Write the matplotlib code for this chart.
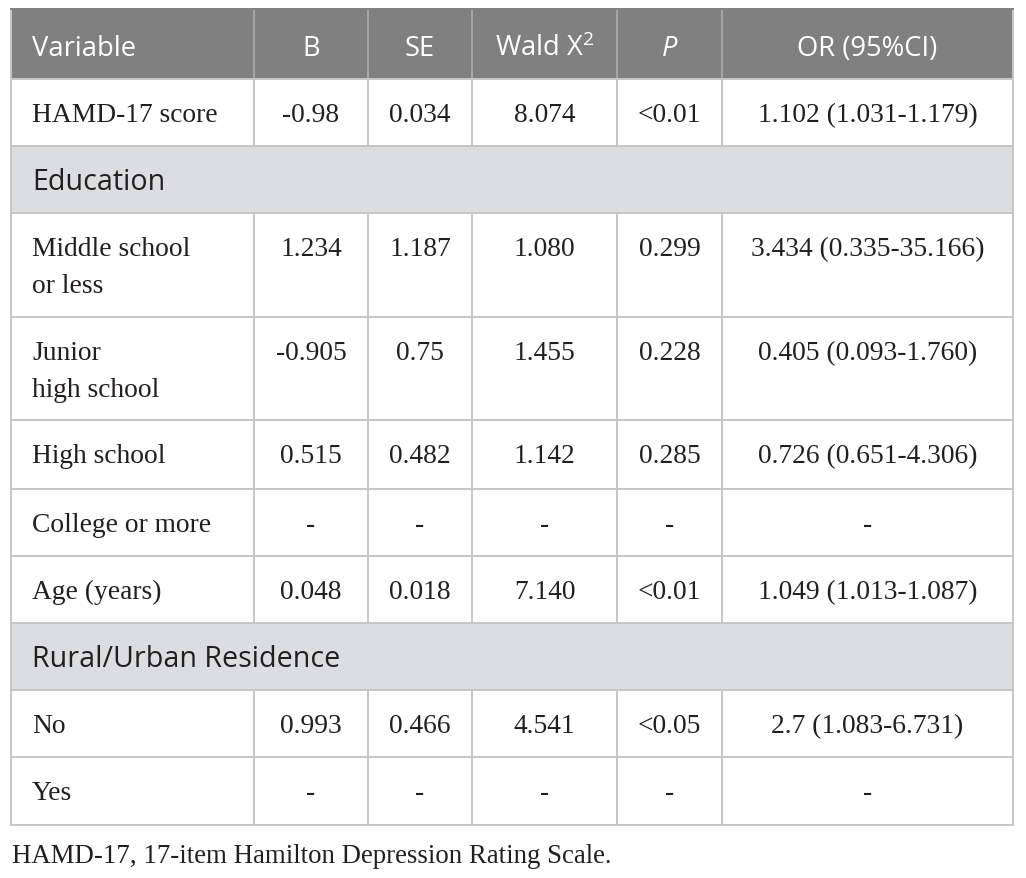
import matplotlib
matplotlib.use("Agg")
import matplotlib.pyplot as plt
from matplotlib.patches import Rectangle

# ---- data ----
headers = ["Variable", "B", "SE", r"Wald X$^{\mathregular{2}}$", "P", "OR (95%CI)"]
variables = ["HAMD-17 score", "Education", "Middle school\nor less", "Junior\nhigh school",
             "High school", "College or more", "Age (years)", "Rural/Urban Residence", "No", "Yes"]
is_section = [False, True, False, False, False, False, False, True, False, False]
B_vals = ["-0.98", "", "1.234", "-0.905", "0.515", "-", "0.048", "", "0.993", "-"]
SE_vals = ["0.034", "", "1.187", "0.75", "0.482", "-", "0.018", "", "0.466", "-"]
wald_vals = ["8.074", "", "1.080", "1.455", "1.142", "-", "7.140", "", "4.541", "-"]
p_vals = ["<0.01", "", "0.299", "0.228", "0.285", "-", "<0.01", "", "<0.05", "-"]
or_vals = ["1.102 (1.031-1.179)", "", "3.434 (0.335-35.166)", "0.405 (0.093-1.760)",
           "0.726 (0.651-4.306)", "-", "1.049 (1.013-1.087)", "", "2.7 (1.083-6.731)", "-"]
footnote = "HAMD-17, 17-item Hamilton Depression Rating Scale."

# ---- layout (pixels) ----
W, H = 1026, 879
col_edges = [11, 254, 368, 472, 617, 722, 1013]
row_edges = [10, 80, 147, 214, 318, 421, 490, 557, 624, 691, 758, 826]

HEADER_BG = "#808080"
SECTION_BG = "#dcdddf"
GRID = "#c6c6c6"
TEXT = "#231f20"
SANS = "Open Sans"
SERIF = "Liberation Serif"
SANS_SIZE_HEAD = 19.7
SANS_SIZE_SEC = 20.6
SERIF_SIZE = 19.8
FOOT_SIZE = 19.4

fig = plt.figure(figsize=(W / 100, H / 100), dpi=100)
ax = fig.add_axes([0, 0, 1, 1])
ax.set_xlim(0, W)
ax.set_ylim(H, 0)
ax.axis("off")

# header background
ax.add_patch(Rectangle((col_edges[0], row_edges[0]), col_edges[-1] - col_edges[0],
                       row_edges[1] - row_edges[0], facecolor=HEADER_BG, edgecolor="none"))
hy = row_edges[0] + 46
for i, h in enumerate(headers):
    if i == 0:
        ax.text(col_edges[0] + 21, hy, h, ha="left", va="baseline", color="white",
                fontsize=SANS_SIZE_HEAD, family=SANS)
    else:
        cx = (col_edges[i] + col_edges[i + 1]) / 2
        ax.text(cx, hy, h, ha="center", va="baseline", color="white", fontsize=SANS_SIZE_HEAD,
                family=SANS, style="italic" if h == "P" else "normal")

# header vertical separators
for x in col_edges[1:-1]:
    ax.plot([x, x], [row_edges[0], row_edges[1]], color="#a8a8a8", lw=1.3)

cols = [B_vals, SE_vals, wald_vals, p_vals, or_vals]
for r, name in enumerate(variables):
    top, bot = row_edges[r + 1], row_edges[r + 2]
    if is_section[r]:
        ax.add_patch(Rectangle((col_edges[0], top), col_edges[-1] - col_edges[0], bot - top,
                               facecolor=SECTION_BG, edgecolor="none"))
        ax.text(col_edges[0] + 21, top + 43, name, ha="left", va="baseline", color=TEXT,
                fontsize=SANS_SIZE_SEC, family=SANS)
    else:
        by = top + 42
        for k, ln in enumerate(name.split("\n")):
            ax.text(col_edges[0] + 21, by + 37 * k, ln, ha="left", va="baseline", color=TEXT,
                    fontsize=SERIF_SIZE, family=SERIF)
        for c, vals in enumerate(cols):
            cx = (col_edges[c + 1] + col_edges[c + 2]) / 2
            ax.text(cx, by, vals[r], ha="center", va="baseline", color=TEXT,
                    fontsize=SERIF_SIZE, family=SERIF)
        for x in col_edges[1:-1]:
            ax.plot([x, x], [top, bot], color=GRID, lw=1.4)

# horizontal lines
for y in row_edges[1:]:
    ax.plot([col_edges[0], col_edges[-1]], [y, y], color=GRID, lw=1.4)
# outer border
ax.plot([col_edges[0], col_edges[0]], [row_edges[0], row_edges[-1]], color=GRID, lw=1.4)
ax.plot([col_edges[-1], col_edges[-1]], [row_edges[0], row_edges[-1]], color=GRID, lw=1.4)
ax.plot([col_edges[0], col_edges[-1]], [row_edges[0], row_edges[0]], color=HEADER_BG, lw=1.4)

ax.text(col_edges[0] + 1, 863, footnote, ha="left", va="baseline", color=TEXT,
        fontsize=FOOT_SIZE, family=SERIF)

fig.savefig("out.png", dpi=100)
